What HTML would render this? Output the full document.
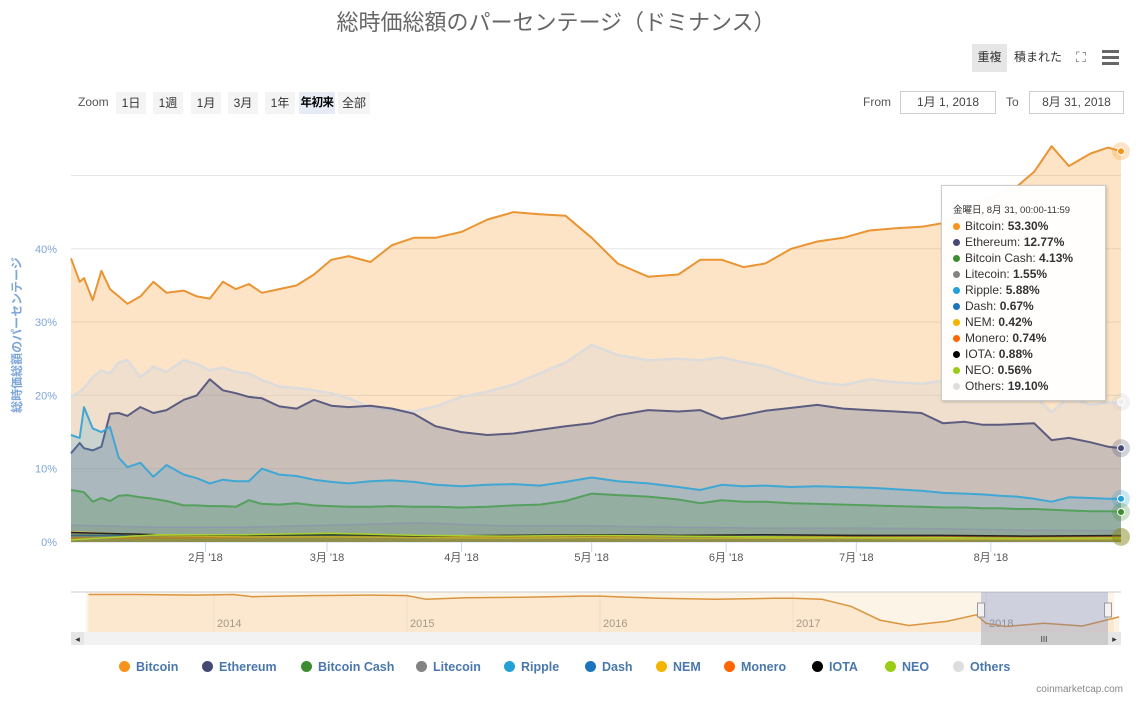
<!DOCTYPE html>
<html><head><meta charset="utf-8">
<style>
body{margin:0;background:#fff;font-family:"Liberation Sans","Noto Sans CJK JP",sans-serif;}
#wrap{position:relative;width:1141px;height:711px;overflow:hidden;}
svg{position:absolute;left:0;top:0;}
.btn{position:absolute;top:92px;height:22px;line-height:22px;font-size:12px;color:#333;background:#f4f4f4;text-align:center;white-space:nowrap;}
.inp{position:absolute;top:91px;height:21px;line-height:21px;border:1px solid #ccc;font-size:12px;color:#444;text-align:center;background:#fff;}
#tip{position:absolute;left:941px;top:185px;width:163px;height:214px;background:rgba(255,255,255,0.96);border:1px solid #ccc;box-shadow:1px 1px 3px rgba(0,0,0,.2);font-size:12px;color:#333;}
#tip .h{font-size:9.5px;margin:16px 0 2px 11px;}
#tip .r{height:16px;line-height:16px;margin-left:11px;white-space:nowrap;}
#tip .d{display:inline-block;width:7px;height:7px;border-radius:50%;margin-right:5px;}
.leg{position:absolute;top:660px;font-size:12.5px;font-weight:bold;color:#4a78ad;white-space:nowrap;}
.leg i{display:inline-block;width:11px;height:11px;border-radius:50%;margin-right:6px;vertical-align:-1px;}
</style></head><body>
<div id="wrap">
<svg id="chart" width="1141" height="711"></svg>
<div style="position:absolute;left:0;width:1112px;top:5px;text-align:center;font-size:22px;color:#666;">総時価総額のパーセンテージ（ドミナンス）</div>
<div style="position:absolute;left:972px;top:44px;width:35px;height:28px;line-height:26px;background:#e6e6e6;font-size:12px;text-align:center;color:#333;">重複</div>
<div style="position:absolute;left:1014px;top:44px;height:28px;line-height:26px;font-size:12px;color:#333;">積まれた</div>
<div style="position:absolute;left:1076px;top:49px;font-size:14px;color:#666;">⛶</div>
<div style="position:absolute;left:1102px;top:50px;width:17px;">
<div style="height:3px;background:#666;margin-bottom:3px"></div><div style="height:3px;background:#666;margin-bottom:3px"></div><div style="height:3px;background:#666"></div></div>
<div style="position:absolute;left:78px;top:95px;font-size:12px;color:#555;">Zoom</div>
<div class="btn" style="left:116px;width:30px;">1日</div>
<div class="btn" style="left:153px;width:30px;">1週</div>
<div class="btn" style="left:191px;width:30px;">1月</div>
<div class="btn" style="left:228px;width:30px;">3月</div>
<div class="btn" style="left:265px;width:30px;">1年</div>
<div class="btn" style="left:299px;width:36px;background:#e6ebf5;font-weight:bold;color:#000;font-size:11.5px;letter-spacing:-0.5px;">年初来</div>
<div class="btn" style="left:338px;width:32px;">全部</div>
<div style="position:absolute;left:863px;top:95px;font-size:12px;color:#555;">From</div>
<div class="inp" style="left:900px;width:94px;">1月 1, 2018</div>
<div style="position:absolute;left:1006px;top:95px;font-size:12px;color:#555;">To</div>
<div class="inp" style="left:1029px;width:93px;">8月 31, 2018</div>
<div id="tip">
<div class="h">金曜日, 8月 31, 00:00-11:59</div>
<div class="r"><span class="d" style="background:#f7931a"></span>Bitcoin: <b>53.30%</b></div>
<div class="r"><span class="d" style="background:#454a75"></span>Ethereum: <b>12.77%</b></div>
<div class="r"><span class="d" style="background:#3c8d2f"></span>Bitcoin Cash: <b>4.13%</b></div>
<div class="r"><span class="d" style="background:#838383"></span>Litecoin: <b>1.55%</b></div>
<div class="r"><span class="d" style="background:#23a1d6"></span>Ripple: <b>5.88%</b></div>
<div class="r"><span class="d" style="background:#1c75bc"></span>Dash: <b>0.67%</b></div>
<div class="r"><span class="d" style="background:#f4b400"></span>NEM: <b>0.42%</b></div>
<div class="r"><span class="d" style="background:#ff6600"></span>Monero: <b>0.74%</b></div>
<div class="r"><span class="d" style="background:#000"></span>IOTA: <b>0.88%</b></div>
<div class="r"><span class="d" style="background:#9acd14"></span>NEO: <b>0.56%</b></div>
<div class="r"><span class="d" style="background:#ddd"></span>Others: <b>19.10%</b></div>
</div>
<div class="leg" style="left:119px"><i style="background:#f7931a"></i>Bitcoin</div>
<div class="leg" style="left:202px"><i style="background:#454a75"></i>Ethereum</div>
<div class="leg" style="left:301px"><i style="background:#3c8d2f"></i>Bitcoin Cash</div>
<div class="leg" style="left:416px"><i style="background:#838383"></i>Litecoin</div>
<div class="leg" style="left:504px"><i style="background:#23a1d6"></i>Ripple</div>
<div class="leg" style="left:585px"><i style="background:#1c75bc"></i>Dash</div>
<div class="leg" style="left:656px"><i style="background:#f4b400"></i>NEM</div>
<div class="leg" style="left:724px"><i style="background:#ff6600"></i>Monero</div>
<div class="leg" style="left:812px"><i style="background:#000"></i>IOTA</div>
<div class="leg" style="left:885px"><i style="background:#9acd14"></i>NEO</div>
<div class="leg" style="left:953px"><i style="background:#ddd"></i>Others</div>
<div style="position:absolute;right:18px;top:684px;font-size:10px;color:#888;">coinmarketcap.com</div>
</div>
<script>
const days=[0,2,3,5,7,9,11,13,16,19,22,26,29,32,35,38,41,44,48,52,56,60,64,69,74,79,84,90,96,102,108,114,120,126,133,140,145,150,155,160,166,172,178,184,190,196,201,206,210,214,218,222,226,230,235,239,242];
const bitcoin=[38.7,35.5,36,33,37,34.5,33.5,32.5,33.5,35.5,34,34.3,33.5,33.2,35.5,34.5,35.2,34,34.5,35,36.5,38.5,39,38.2,40.5,41.5,41.5,42.3,44,45,44.7,44.5,41.5,38,36.2,36.5,38.5,38.5,37.5,38,40,41,41.5,42.5,42.8,43,43.5,45,46.5,47.5,48.5,50.5,54,51.3,53,53.8,53.3];
const others=[19.8,20.5,21,22.5,23.4,23,24.5,24.8,22.5,23.9,23.2,24.8,24.3,23.4,23.8,23.2,23,22.1,21.2,21,20.7,20.3,19.6,18.4,18,17.8,18.5,19.8,20.5,21.5,23,24.5,26.9,25.5,24.8,25,24.8,25.2,24.5,24,22.8,21.8,21.4,22.2,21.8,21.6,22,21.8,21.5,21.5,21.3,20,17.7,19.8,18.7,19,19.1];
const ethereum=[12.1,13.5,12.8,12.5,13,17.5,17.6,17.2,18.4,17.6,18,19.4,20,22.2,20.7,20.3,19.8,19.6,18.5,18.2,19.4,18.6,18.4,18.6,18.2,17.5,15.8,15,14.6,14.8,15.3,15.8,16.2,17.3,18,17.8,18,16.8,17.3,17.9,18.3,18.7,18.2,18,17.8,17.6,16.2,16.4,16,16,16.1,16.2,13.9,14.2,13.6,13,12.8];
const ripple=[14.6,14.2,18.4,15.5,15,15.7,11.5,10.2,10.8,8.9,10.5,9.2,8.7,8,8.5,8.3,8.3,10,9.2,9,8.5,8.2,8,8.3,8.4,8.2,7.8,7.6,7.8,7.9,7.7,8.2,8.8,8.3,8,7.5,7.1,7.8,7.6,7.7,7.5,7.6,7.5,7.4,7.2,7,6.7,6.6,6.5,6.3,6.2,5.9,5.5,6.1,6,5.9,5.9];
const bitcoinCash=[7.1,6.9,6.8,5.5,6,5.6,6.3,6.4,6.1,5.9,5.6,5,5,4.9,4.9,4.8,5.7,5.2,5.1,5.3,5,4.9,4.8,4.8,4.9,4.8,4.8,4.7,4.8,5,5.1,5.6,6.6,6.4,6.2,5.8,5.3,5.7,5.5,5.5,5.3,5.2,5.1,5,4.9,4.8,4.7,4.7,4.6,4.6,4.5,4.5,4.4,4.3,4.2,4.2,4.1];
const daysS=[0,20,40,60,80,100,120,140,160,180,200,220,242];
const litecoin=[2.3,2.0,2.0,2.3,2.6,2.2,2.2,2.0,1.9,1.9,1.8,1.6,1.55];
const iota=[1.3,1.0,0.9,1.0,0.8,0.9,1.0,0.9,1.0,0.9,0.9,0.8,0.88];
const neo=[0.3,1.0,1.0,1.2,0.9,0.8,0.9,0.8,0.7,0.6,0.6,0.5,0.56];
const dash=[0.9,0.9,0.9,0.9,0.8,0.7,0.8,0.8,0.7,0.7,0.7,0.7,0.67];
const nem=[1.4,0.9,0.7,0.7,0.6,0.5,0.6,0.5,0.5,0.5,0.4,0.4,0.42];
const monero=[0.5,0.6,0.6,0.7,0.7,0.7,0.7,0.8,0.7,0.8,0.8,0.7,0.74];
const yTicks=[0,10,20,30,40,50];
const monthDays=[31,59,90,120,151,181,212];
const monthLabels=["2月 '18","3月 '18","4月 '18","5月 '18","6月 '18","7月 '18","8月 '18"];
const navYears=[2013.35,2013.6,2013.9,2014.1,2014.2,2014.5,2014.8,2015.0,2015.1,2015.3,2015.6,2015.9,2016.0,2016.3,2016.6,2016.9,2017.0,2017.15,2017.3,2017.45,2017.6,2017.8,2017.95,2018.0,2018.1,2018.3,2018.5,2018.69];
const navVals=[94,94,93,94,90,92,93,92,85,88,89,91,91,87,85,87,87,85,72,46,36,44,56,40,34,40,35,52];
const navYearLabels=[2014,2015,2016,2017,2018];

const NS='http://www.w3.org/2000/svg';
const svg=document.getElementById('chart');
const X0=71,X1=1121,Y0=542,PPU=7.33;
const xs=d=>X0+d*(X1-X0)/242;
const ys=v=>Y0-v*PPU;
const nx=y=>214+(y-2014)*193;
const ny=v=>626-(v-35)/60*32;
function mk(t,a,p){const e=document.createElementNS(NS,t);for(const k in a)e.setAttribute(k,a[k]);(p||svg).appendChild(e);return e;}
function txt(x,y,s,a){const e=mk('text',Object.assign({x:x,y:y},a));e.textContent=s;return e;}

yTicks.forEach(v=>{
  const g=mk('line',{x1:X0,x2:X1,y1:ys(v),y2:ys(v),stroke:'#e6e6e6','stroke-width':1});
  
  
  if(v<50){const t=txt(57,ys(v)+4,v+'%',{'text-anchor':'end','font-size':'11','fill':'#7ea6d8','font-family':'Liberation Sans'});
  
  }
});
const yt=txt(0,0,'総時価総額のパーセンテージ',{'font-size':'12','fill':'#7ea6d8','font-weight':'bold','text-anchor':'middle','transform':'translate(21,335) rotate(-90)','font-family':'Liberation Sans, Noto Sans CJK JP, sans-serif'});


monthDays.forEach((d,i)=>{
  const l=mk('line',{x1:xs(d),x2:xs(d),y1:Y0,y2:Y0+10,stroke:'#ccd6eb'});
  
  
  const t=txt(xs(d),561,monthLabels[i],{'text-anchor':'middle','font-size':'11','fill':'#555','font-family':'Liberation Sans, Noto Sans CJK JP, sans-serif'});
  
  
});
mk('line',{x1:X0,x2:X1,y1:Y0,y2:Y0,stroke:'#ccd6eb'});

function series(name,dx,vals,stroke,fill,op,w){
  let p='';dx.forEach((d,i)=>{p+=(i?'L':'M')+xs(d).toFixed(1)+','+ys(vals[i]).toFixed(1);});
  const a=mk('path',{d:p+'L'+xs(dx[dx.length-1])+','+Y0+'L'+xs(dx[0])+','+Y0+'Z',fill:fill,'fill-opacity':op,stroke:'none'});
  
  
  const l=mk('path',{d:p,fill:'none',stroke:stroke,'stroke-width':w||2,'stroke-linejoin':'round'});
  
  
}
series('bitcoin',days,bitcoin,'#ea9433','#f7931a',0.25);
series('others',days,others,'#dcdcdc','#d8d8d8',0.35,2.5);
series('ethereum',days,ethereum,'#5c5c80','#454a75',0.22);
series('ripple',days,ripple,'#3fa7d3','#23a1d6',0.18);
series('bitcoin-cash',days,bitcoinCash,'#56a05f','#3c8d2f',0.2);
series('litecoin',daysS,litecoin,'#8d9aa8','#838383',0.2,1.5);
series('dash',daysS,dash,'#1c75bc','#1c75bc',0.2,1.5);
series('monero',daysS,monero,'#e07a30','#ff6600',0.2,1.5);
series('nem',daysS,nem,'#e5c040','#f4b400',0.2,1.5);
series('iota',daysS,iota,'#222','#000',0.15,1.5);
series('neo',daysS,neo,'#a8d030','#9acd14',0.2,1.5);

function halo(v,c,col){
  const h=mk('circle',{cx:X1,cy:ys(v),r:9,fill:c,'fill-opacity':0.25});
  
  
  const m=mk('circle',{cx:X1,cy:ys(v),r:3.5,fill:col,stroke:'#fff','stroke-width':1});
  
  
}
halo(bitcoin[bitcoin.length-1],'#f7931a','#f7931a');
halo(others[others.length-1],'#ccc','#eee');
halo(ethereum[ethereum.length-1],'#454a75','#454a75');
halo(ripple[ripple.length-1],'#23a1d6','#23a1d6');
halo(bitcoinCash[bitcoinCash.length-1],'#3c8d2f','#3c8d2f');
const bh=mk('circle',{cx:X1,cy:ys(0.7),r:9,fill:'#8a8a20','fill-opacity':0.5});



const nb=mk('rect',{x:86,y:592,width:1028,height:40,fill:'#fdf4e8'});


mk('line',{x1:71,x2:1121,y1:592,y2:592,stroke:'#ccc'});
navYearLabels.forEach(y=>{
  const l=mk('line',{x1:nx(y),x2:nx(y),y1:592,y2:632,stroke:'#e6e6e6'});
  
  
  const t=txt(nx(y)+3,627,String(y),{'font-size':'11','fill':'#999','font-family':'Liberation Sans'});
  
  
});
let np='';navYears.forEach((y,i)=>{np+=(i?'L':'M')+nx(y).toFixed(1)+','+ny(navVals[i]).toFixed(1);});
const na=mk('path',{d:np+'L'+nx(navYears[navYears.length-1])+',632L'+nx(navYears[0])+',632Z',fill:'#f7931a','fill-opacity':0.12});


const nl=mk('path',{d:np,fill:'none',stroke:'#d9953f','stroke-width':1.5});


const sel=mk('rect',{x:981,y:592,width:127,height:40,fill:'#667fc4','fill-opacity':0.3});


[981,1108].forEach(x=>{
  const h=mk('rect',{x:x-3.5,y:603,width:7,height:14,fill:'#f2f2f2',stroke:'#999'});
  
  
});
const sb=mk('rect',{x:71,y:632,width:1050,height:13,fill:'#f2f2f2'});


const st=mk('rect',{x:981,y:632,width:127,height:13,fill:'#ccc'});


mk('rect',{x:71,y:632,width:13,height:13,fill:'#e6e6e6'});
mk('rect',{x:1108,y:632,width:13,height:13,fill:'#e6e6e6'});
txt(77.5,642,'◂',{'font-size':'9','fill':'#333','text-anchor':'middle'});
txt(1114.5,642,'▸',{'font-size':'9','fill':'#333','text-anchor':'middle'});
txt(1044,642,'III',{'font-size':'8','fill':'#333','text-anchor':'middle'});
</script>
</body></html>
